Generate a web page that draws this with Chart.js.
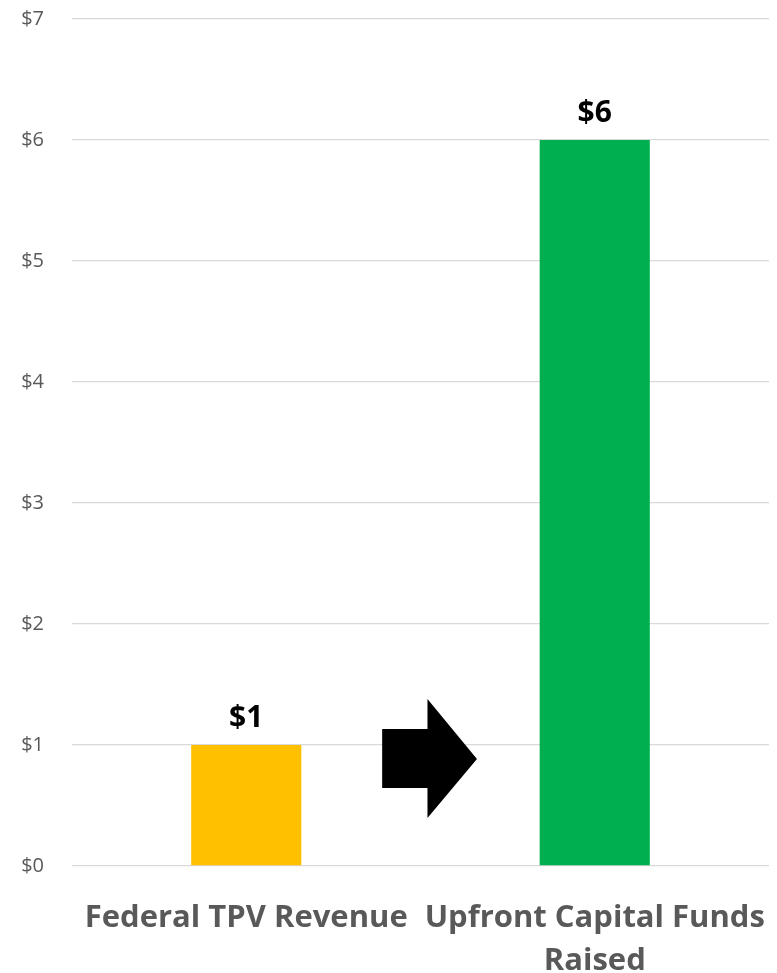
<!DOCTYPE html>
<html>
<head>
<meta charset="utf-8">
<script src="https://cdn.jsdelivr.net/npm/chart.js@4/dist/chart.umd.min.js"></script>
<style>
    body { margin: 0; background: #fff; }
    #wrap { width: 777px; height: 973px; position: relative; }
</style>
</head>
<body>
<div id="wrap"><canvas id="fundsChart"></canvas></div>
<script>
// valores do gráfico
const categorias = [['Federal TPV Revenue'], ['Upfront Capital Funds', 'Raised']];
const valores = [1, 6];
const cores = ['#FFC000', '#00B050'];
const ticksY = [0, 1, 2, 3, 4, 5, 6, 7];

Chart.defaults.font.family = "'Open Sans', sans-serif";

// rótulos em cima das barras
const rotulosPlugin = {
    id: 'rotulos',
    afterDatasetsDraw(chart) {
        const ctx = chart.ctx;
        const meta = chart.getDatasetMeta(0);
        ctx.save();
        ctx.font = "bold 30px 'Open Sans'";
        ctx.fillStyle = '#000';
        ctx.textAlign = 'center';
        ctx.textBaseline = 'bottom';
        meta.data.forEach(function (bar, i) {
            ctx.fillText('$' + valores[i], bar.x, bar.y - 12);
        });
        ctx.restore();
    }
};

// seta entre as barras (em unidades das escalas)
const setaPlugin = {
    id: 'seta',
    afterDatasetsDraw(chart) {
        const x = chart.scales.x, y = chart.scales.y;
        const px = v => x.getPixelForValue(v);
        const py = v => y.getPixelForValue(v);
        const ctx = chart.ctx;
        ctx.save();
        ctx.fillStyle = '#000';
        ctx.beginPath();
        ctx.moveTo(px(0.39), py(1.132));
        ctx.lineTo(px(0.52), py(1.132));
        ctx.lineTo(px(0.52), py(1.38));
        ctx.lineTo(px(0.662), py(0.884));
        ctx.lineTo(px(0.52), py(0.397));
        ctx.lineTo(px(0.52), py(0.645));
        ctx.lineTo(px(0.39), py(0.645));
        ctx.closePath();
        ctx.fill();
        ctx.restore();
    }
};

const ctx = document.getElementById('fundsChart').getContext('2d');
const fundsChart = new Chart(ctx, {
    type: 'bar',
    data: {
        labels: categorias,
        datasets: [{
            data: valores,
            backgroundColor: cores,
            categoryPercentage: 1,
            barPercentage: 0.316
        }]
    },
    options: {
        responsive: true,
        maintainAspectRatio: false,
        animation: false,
        layout: {
            padding: { top: 19, right: 8, left: 0, bottom: 0 }
        },
        plugins: {
            legend: { display: false },
            tooltip: { enabled: false }
        },
        scales: {
            x: {
                grid: { display: false },
                border: { display: false },
                afterFit: function (scale) {
                    scale.paddingLeft = 0;
                    scale.paddingRight = 0;
                    scale.height = 107;
                },
                ticks: {
                    color: '#595959',
                    font: { size: 31, weight: 'bold', lineHeight: 1.4 },
                    maxRotation: 0,
                    autoSkip: false,
                    padding: 22
                }
            },
            y: {
                min: 0,
                max: 7,
                afterBuildTicks: function (scale) {
                    scale.ticks = ticksY.map(v => ({ value: v }));
                },
                afterFit: function (scale) {
                    scale.width = 72;
                    scale.paddingTop = 0;
                    scale.paddingBottom = 0;
                },
                grid: { color: '#D9D9D9', lineWidth: 1.3, drawTicks: false },
                border: { display: false },
                ticks: {
                    color: '#595959',
                    font: { size: 20 },
                    padding: 28,
                    callback: function (v) { return '$' + v; }
                }
            }
        }
    },
    plugins: [rotulosPlugin, setaPlugin]
});
</script>
</body>
</html>
